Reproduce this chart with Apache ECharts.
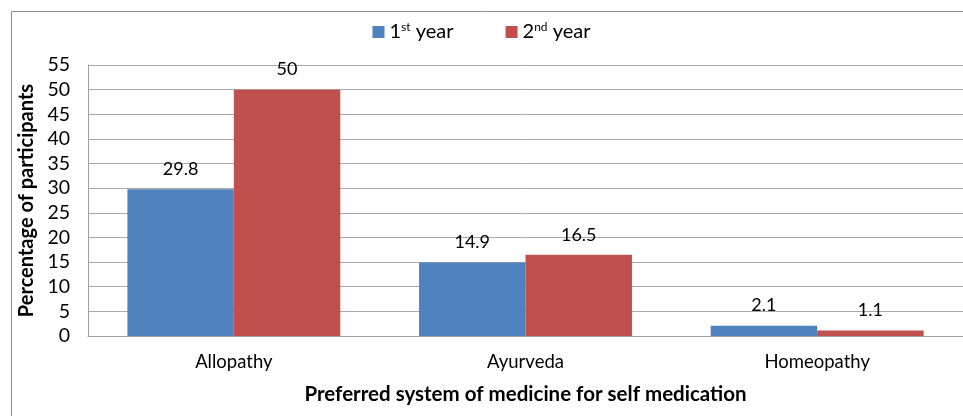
<!DOCTYPE html>
<html>
<head>
<meta charset="utf-8">
<script src="https://cdn.jsdelivr.net/npm/echarts@6/dist/echarts.min.js"></script>
<style>
  html, body { margin: 0; padding: 0; background: #fff; }
  #chart { width: 963px; height: 416px; }
</style>
</head>
<body>
<div id="chart"></div>
<script>
// Preferred systems of medicine, percentage of participants by study year
const categories = ['Allopathy', 'Ayurveda', 'Homeopathy'];
const firstYear = [29.8, 14.9, 2.1];
const secondYear = [50, 16.5, 1.1];
const yTicks = { min: 0, max: 55, interval: 5 };
const seriesNames = ['1st year', '2nd year'];

const FONT = 'Lato, "Open Sans", sans-serif';
const chart = echarts.init(document.getElementById('chart'));

const legendRich = {
  base: { fontSize: 20, fontFamily: FONT, color: '#000' },
  sup: { fontSize: 12, fontFamily: FONT, color: '#000', padding: [0, 0, 10, 0] }
};

chart.setOption({
  animation: false,
  textStyle: { fontFamily: FONT },
  graphic: [{
    type: 'rect',
    shape: { x: 11.5, y: 11.5, width: 980, height: 440 },
    style: { fill: 'none', stroke: '#8a8a8a', lineWidth: 1 },
    silent: true
  }],
  legend: {
    top: 16,
    left: 'center',
    itemWidth: 12,
    itemHeight: 12,
    itemGap: 52,
    icon: 'rect',
    data: seriesNames,
    formatter: function (name) {
      return name === seriesNames[0]
        ? '{base|1}{sup|st}{base| year}'
        : '{base|2}{sup|nd}{base| year}';
    },
    textStyle: { rich: legendRich }
  },
  grid: { left: 88, right: -4, top: 65, bottom: 80, containLabel: false },
  xAxis: {
    type: 'category',
    data: categories,
    axisTick: { show: false },
    axisLine: { lineStyle: { color: '#a0a0a0', width: 1 } },
    axisLabel: { fontSize: 18.5, color: '#000', fontFamily: FONT, margin: 17 },
    name: 'Preferred system of medicine for self medication',
    nameLocation: 'middle',
    nameGap: 48,
    nameTextStyle: { fontSize: 20.5, fontWeight: 'bold', color: '#000', fontFamily: FONT }
  },
  yAxis: {
    type: 'value',
    min: yTicks.min,
    max: yTicks.max,
    interval: yTicks.interval,
    axisLine: { show: true, lineStyle: { color: '#a0a0a0', width: 1 } },
    axisTick: { show: false },
    splitLine: { lineStyle: { color: '#a8a8a8', width: 1 } },
    axisLabel: { fontSize: 19.5, color: '#000', fontFamily: FONT, margin: 18 },
    name: 'Percentage of participants',
    nameLocation: 'middle',
    nameGap: 47,
    nameTextStyle: { fontSize: 20, fontWeight: 'bold', color: '#000', fontFamily: FONT }
  },
  series: [
    {
      name: seriesNames[0],
      type: 'bar',
      data: firstYear,
      barGap: '0%',
      barCategoryGap: '27%',
      itemStyle: { color: '#4F81BD' },
      label: { show: true, position: 'top', distance: 11, fontSize: 18, color: '#000', fontFamily: FONT }
    },
    {
      name: seriesNames[1],
      type: 'bar',
      data: secondYear,
      barGap: '0%',
      barCategoryGap: '27%',
      itemStyle: { color: '#C0504D' },
      label: { show: true, position: 'top', distance: 11, fontSize: 18, color: '#000', fontFamily: FONT }
    }
  ]
});
</script>
</body>
</html>
